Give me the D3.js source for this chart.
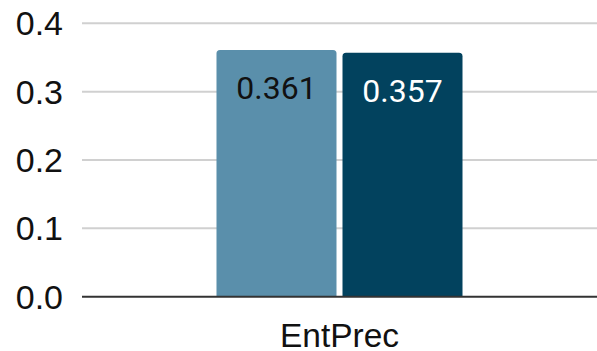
<!DOCTYPE html>
<html>
<head>
<meta charset="utf-8">
<script src="https://cdn.jsdelivr.net/npm/d3@7"></script>
<style>
  html, body { margin: 0; padding: 0; background: #fff; }
  svg { display: block; }
</style>
</head>
<body>
<svg id="chart" width="597" height="351"></svg>
<script>
const categories = ["EntPrec"];
const seriesNames = ["A", "B"];
const seriesValues = [[0.361], [0.357]];
const valueLabels = [["0.361"], ["0.357"]];
const yTicks = [0.0, 0.1, 0.2, 0.3, 0.4];
const colors = ["#5a8fab", "#02425e"];
const labelColors = ["#111111", "#ffffff"];

const W = 597, H = 351;
const margin = { left: 82, right: 0, top: 23.3, bottom: 54.3 };
const svg = d3.select("#chart");

const y = d3.scaleLinear().domain([0, 0.4]).range([H - margin.bottom, margin.top]);
const x0 = d3.scaleBand().domain(categories).range([margin.left, W - margin.right])
  .paddingInner(0).paddingOuter(0.5467);
const x1 = d3.scaleBand().domain(seriesNames).range([0, x0.bandwidth()])
  .paddingInner(0.0476).paddingOuter(0);

// gridlines
svg.append("g").selectAll("line").data(yTicks.filter(d => d > 0)).join("line")
  .attr("x1", margin.left).attr("x2", W)
  .attr("y1", d => y(d)).attr("y2", d => y(d))
  .attr("stroke", "#d0d0d0").attr("stroke-width", 2);

// y tick labels
svg.append("g").selectAll("text").data(yTicks).join("text")
  .attr("x", 63).attr("y", d => y(d))
  .attr("dy", "0.35em")
  .attr("text-anchor", "end")
  .attr("font-family", "'Liberation Sans', Arial, sans-serif")
  .attr("font-size", 34)
  .attr("fill", "#111111")
  .text(d => d3.format(".1f")(d));

// bars
const r = 3.5;
function topRounded(x, yTop, w, yBot, rad) {
  return `M${x},${yBot} L${x},${yTop + rad} Q${x},${yTop} ${x + rad},${yTop} ` +
    `L${x + w - rad},${yTop} Q${x + w},${yTop} ${x + w},${yTop + rad} L${x + w},${yBot} Z`;
}
const g = svg.append("g");
categories.forEach((c, ci) => {
  seriesNames.forEach((s, si) => {
    const v = seriesValues[si][ci];
    const bx = x0(c) + x1(s);
    const bw = x1.bandwidth();
    g.append("path")
      .attr("d", topRounded(bx, y(v), bw, y(0), r))
      .attr("fill", colors[si]);
    g.append("text")
      .attr("x", bx + bw / 2)
      .attr("y", y(v) + 49)
      .attr("text-anchor", "middle")
      .attr("font-family", "Roboto, sans-serif")
      .attr("font-size", 32)
      .attr("fill", labelColors[si])
      .text(valueLabels[si][ci]);
  });
});

// baseline
svg.append("line")
  .attr("x1", margin.left).attr("x2", W)
  .attr("y1", y(0)).attr("y2", y(0))
  .attr("stroke", "#333333").attr("stroke-width", 2);

// x axis category labels
svg.append("g").selectAll("text").data(categories).join("text")
  .attr("x", d => x0(d) + x0.bandwidth() / 2)
  .attr("y", 346.5)
  .attr("text-anchor", "middle")
  .attr("font-family", "'Liberation Sans', Arial, sans-serif")
  .attr("font-size", 33.5)
  .attr("fill", "#111111")
  .text(d => d);
</script>
</body>
</html>
